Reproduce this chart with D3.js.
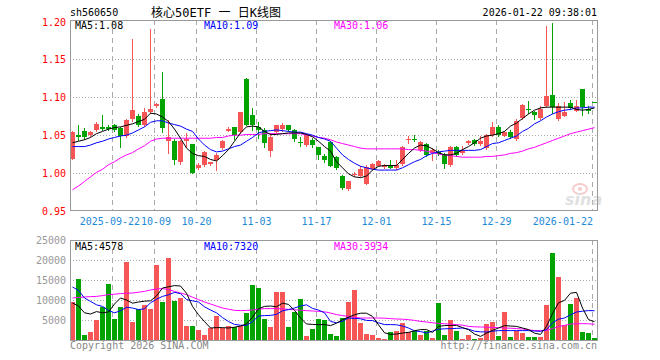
<!DOCTYPE html>
<html lang="zh">
<head>
<meta charset="utf-8">
<title>核心50ETF 日K线图</title>
<script src="https://cdn.jsdelivr.net/npm/d3@7/dist/d3.min.js"></script>
<style>
  body { margin: 0; background: #fff; }
  svg { display: block; }
  text { font-family: "DejaVu Sans Mono", monospace; font-size: 10px; }
</style>
</head>
<body>
<script>
// daily bars, 2025-09-11 .. 2026-01-22 (88 trading days)
var opens = [1.019,1.050,1.055,1.050,1.057,1.061,1.061,1.063,1.060,1.049,
  1.071,1.075,1.064,1.080,1.088,1.098,1.043,1.043,1.015,1.043,
  1.038,1.007,1.011,1.012,1.017,1.033,1.056,1.061,1.054,1.124,
  1.077,1.061,1.057,1.0285,1.054,1.058,1.063,1.057,1.041,1.037,
  1.044,1.034,1.022,1.041,1.0215,0.9965,0.979,0.997,0.9965,0.9855,
  1.0057,1.010,1.008,1.010,1.0066,1.0114,1.044,1.045,1.031,1.039,
  1.026,1.0276,1.025,1.011,1.0346,1.026,1.0395,1.044,1.0386,1.033,
  1.050,1.0614,1.0496,1.054,1.045,1.0724,1.0847,1.0807,1.0724,1.0886,
  1.1031,1.0715,1.0759,1.092,1.0825,1.1105,1.0842,1.0943];
var closes = [1.054,1.047,1.047,1.054,1.065,1.058,1.058,1.057,1.049,1.070,
  1.083,1.064,1.081,1.085,1.091,1.060,1.047,1.017,1.043,1.045,
  1.000,1.011,1.028,1.014,1.024,1.043,1.058,1.050,1.080,1.064,
  1.064,1.057,1.0395,1.048,1.063,1.064,1.057,1.045,1.0395,1.050,
  1.037,1.024,1.017,1.010,1.007,0.980,0.990,0.999,1.005,1.008,
  1.012,1.016,1.011,1.007,1.011,1.035,1.045,1.044,1.041,1.024,
  1.031,1.0254,1.012,1.0346,1.024,1.0285,1.0425,1.0386,1.043,1.050,
  1.0614,1.050,1.054,1.047,1.0693,1.090,1.0838,1.0768,1.0847,1.1018,
  1.0877,1.0886,1.0807,1.0855,1.0886,1.0868,1.082,1.0939];
var highs = [1.055,1.064,1.059,1.056,1.068,1.076,1.064,1.065,1.061,1.072,
  1.177,1.078,1.086,1.190,1.092,1.133,1.070,1.045,1.044,1.053,
  1.039,1.013,1.029,1.015,1.026,1.044,1.061,1.061,1.081,1.125,
  1.086,1.068,1.059,1.053,1.064,1.066,1.064,1.058,1.048,1.051,
  1.046,1.035,1.025,1.042,1.023,0.998,0.990,1.002,1.010,1.0105,
  1.013,1.017,1.012,1.017,1.0175,1.036,1.049,1.050,1.0425,1.040,
  1.033,1.030,1.026,1.0355,1.0355,1.036,1.0434,1.045,1.049,1.0513,
  1.067,1.0636,1.055,1.057,1.072,1.091,1.0956,1.0816,1.0886,1.1943,
  1.1978,1.092,1.0943,1.0965,1.0965,1.111,1.0886,1.0943];
var lows = [1.018,1.044,1.045,1.049,1.056,1.057,1.057,1.055,1.034,1.047,
  1.069,1.062,1.062,1.079,1.087,1.054,1.026,1.012,1.012,1.034,
  0.9995,1.006,1.010,1.0105,1.004,1.032,1.055,1.045,1.053,1.063,
  1.057,1.046,1.034,1.023,1.053,1.056,1.056,1.0425,1.036,1.036,
  1.035,1.019,1.015,1.009,1.005,0.979,0.978,0.9956,0.996,0.985,
  1.005,1.009,1.007,1.0066,1.006,1.0105,1.040,1.042,1.0285,1.022,
  1.0175,1.024,1.0066,1.010,1.023,1.025,1.0386,1.0377,1.0377,1.032,
  1.0496,1.0496,1.0487,1.046,1.0443,1.0715,1.079,1.071,1.0715,1.0877,
  1.079,1.070,1.075,1.0842,1.0816,1.0768,1.079,1.0939];
var volumes = [9600,15300,1300,1900,5100,8300,14100,5300,8300,19600,
  4600,7800,8800,7800,18800,9600,20600,9800,10600,3600,
  3600,2600,1300,3100,6100,3100,3600,3300,3600,6800,
  13800,13100,5300,3200,12100,12100,3300,7100,10300,1100,
  2800,5300,5100,1600,1100,5600,9600,12600,4300,1600,
  1300,600,300,2100,2300,4300,2100,2300,1300,2300,
  600,9300,1300,5100,2300,300,1300,300,600,4100,
  4600,1100,7100,800,2200,1800,800,800,800,8800,
  21800,15800,3700,9100,10600,2100,1800,400];

// moving averages as drawn on the chart
var ma5 = [1.040,1.042,1.044,1.047,1.052,1.055,1.058,1.060,1.061,1.063,
  1.065,1.068,1.071,1.079,1.078,1.074,1.068,1.058,1.046,1.033,
  1.026,1.023,1.022,1.018,1.016,1.023,1.031,1.042,1.053,1.061,
  1.062,1.061,1.055,1.051,1.051,1.052,1.053,1.053,1.053,1.051,
  1.048,1.042,1.035,1.029,1.015,1.007,0.999,0.995,0.994,0.996,
  1.004,1.009,1.010,1.010,1.010,1.018,1.026,1.033,1.037,1.036,
  1.032,1.027,1.024,1.024,1.026,1.031,1.035,1.040,1.046,1.049,
  1.050,1.052,1.055,1.062,1.066,1.072,1.078,1.083,1.086,1.087,
  1.087,1.087,1.087,1.087,1.084,1.083,1.084,1.086];
var ma10 = [1.035,1.035,1.035,1.037,1.040,1.042,1.045,1.047,1.049,1.050,
  1.053,1.057,1.061,1.067,1.069,1.069,1.066,1.064,1.062,1.058,
  1.055,1.045,1.037,1.031,1.028,1.029,1.032,1.035,1.037,1.042,
  1.047,1.053,1.055,1.056,1.057,1.056,1.055,1.054,1.054,1.052,
  1.050,1.047,1.045,1.042,1.033,1.024,1.018,1.013,1.009,1.007,
  1.005,1.004,1.004,1.004,1.004,1.007,1.011,1.015,1.018,1.023,
  1.026,1.028,1.029,1.030,1.030,1.030,1.030,1.030,1.031,1.035,
  1.039,1.040,1.043,1.046,1.049,1.055,1.059,1.065,1.069,1.074,
  1.078,1.081,1.083,1.084,1.086,1.086,1.087,1.087];
var ma30 = [0.978,0.983,0.989,0.995,1.001,1.005,1.011,1.015,1.020,1.024,
  1.027,1.032,1.036,1.042,1.045,1.046,1.046,1.046,1.046,1.046,
  1.046,1.046,1.046,1.046,1.047,1.047,1.049,1.050,1.050,1.051,
  1.051,1.051,1.052,1.052,1.052,1.052,1.052,1.052,1.052,1.050,
  1.049,1.047,1.046,1.044,1.041,1.039,1.037,1.035,1.033,1.032,
  1.032,1.032,1.032,1.032,1.032,1.032,1.031,1.031,1.030,1.029,
  1.027,1.025,1.024,1.023,1.022,1.021,1.021,1.021,1.021,1.022,
  1.022,1.023,1.024,1.026,1.027,1.029,1.032,1.034,1.037,1.040,
  1.043,1.046,1.049,1.052,1.054,1.056,1.058,1.060];
var vma5 = [9250,8500,6800,6500,7100,6800,7000,9000,10500,10000,
  9200,9500,9700,9800,11000,13000,13300,13600,13500,11700,
  8400,6300,4600,3000,3100,3100,3000,3200,3500,4000,
  5700,7800,8400,8500,8300,9200,8900,7400,5500,4000,
  3900,3850,3850,3600,4200,5100,5700,6300,6700,6700,
  5900,3800,1800,1400,1500,1750,1900,2300,2600,2600,
  1900,3400,3600,3650,3650,3100,2600,1500,900,1700,
  2400,3000,3600,3500,3400,3000,2600,1700,1400,3400,
  6600,9300,9900,11700,11900,8000,5100,4578];
var vma10 = [13250,12400,10500,9650,8800,8400,7400,6800,7300,8200,
  8000,7600,7800,9300,10200,10900,11300,11900,11600,10100,
  9800,9500,8300,7500,6800,5600,4600,3900,3700,3650,
  4600,6000,6100,6150,6400,7300,7600,8000,8500,8800,
  7900,7500,6800,4650,4300,4700,5500,5400,5300,4900,
  4850,4300,3850,3850,3800,3500,3000,2300,2100,1750,
  2200,2700,2800,2850,2900,3000,2700,2200,2050,2000,
  2200,2350,2350,2350,2350,2350,2350,2250,2150,2600,
  4300,5200,5500,6300,7000,7200,7350,7320];
var vma30 = [10500,10650,10750,10850,10900,11100,11350,11450,11600,11700,
  11750,11950,12150,12500,12750,12850,12600,12150,11750,11350,
  10700,10100,9500,9000,8500,8000,7700,7400,7350,7400,
  7500,7700,7850,7850,7850,7800,7650,7550,7450,7350,
  7250,7150,7050,6750,6350,6100,5900,5700,5500,5500,
  5500,5500,5450,5350,5250,5200,5100,4900,4650,4500,
  4300,4150,4050,3950,3850,3700,3400,3300,3250,3200,
  3150,3100,3000,2950,2850,2750,2550,2350,2350,2400,
  2850,3400,3650,4000,4050,4100,4050,3934];

// axis ticks
var tickIdx = [7, 14, 21, 31, 41, 51, 61, 71, 87];
var tickLabels = ["2025-09-22", "10-09", "10-20", "11-03", "11-17", "12-01", "12-15", "12-29", "2026-01-22"];
var priceTicks = [0.95, 1.00, 1.05, 1.10, 1.15, 1.20];
var volTicks = [5000, 10000, 15000, 20000, 25000];

var w = 660, h = 360;
var RED = "#f65656", GREEN = "#00a300", GRID = "#aaa";

var svg = d3.select("body").append("svg")
  .attr("width", w)
  .attr("height", h);

// scales
var x = d3.scaleLinear().domain([0, 88]).range([70, 598]);   // left edge of each bar
var yP = d3.scaleLinear().domain([0.95, 1.20]).range([211, 21.5]);
var yV = d3.scaleLinear().domain([0, 25000]).range([340, 240]);

var idx = d3.range(opens.length);
function xl(i) { return Math.round(x(i)); }
function xc(i) { return Math.round(x(i)) + 2.5; }
function isUp(i) { return closes[i] >= opens[i]; }

// header texts
svg.append("text").attr("x", 70).attr("y", 16).text("sh560650");
svg.append("text").attr("x", 216).attr("y", 17).attr("text-anchor", "middle")
  .style("font-size", "12px").style("font-family", "'DejaVu Sans Mono', 'Noto Sans CJK SC', monospace")
  .text("核心50ETF 一 日K线图");
svg.append("text").attr("x", 597).attr("y", 16).attr("text-anchor", "end").text("2026-01-22 09:38:01");

// gridlines: price panel
svg.append("g").selectAll("line")
  .data(priceTicks.slice(1, -1))
  .enter().append("line")
  .attr("x1", 70).attr("x2", 597)
  .attr("y1", function(d) { return Math.round(yP(d)) + 0.5; })
  .attr("y2", function(d) { return Math.round(yP(d)) + 0.5; })
  .attr("stroke", GRID).attr("stroke-dasharray", "1,2");

svg.append("g").selectAll("line")
  .data(volTicks.slice(0, -1))
  .enter().append("line")
  .attr("x1", 70).attr("x2", 597)
  .attr("y1", function(d) { return Math.round(yV(d)) + 0.5; })
  .attr("y2", function(d) { return Math.round(yV(d)) + 0.5; })
  .attr("stroke", GRID).attr("stroke-dasharray", "1,2");

// vertical dashed gridlines, both panels
[[20, 211], [240, 340]].forEach(function(r) {
  svg.append("g").selectAll("line")
    .data(tickIdx)
    .enter().append("line")
    .attr("x1", function(i) { return xl(i) + 0.5; })
    .attr("x2", function(i) { return xl(i) + 0.5; })
    .attr("y1", r[0]).attr("y2", r[1])
    .attr("stroke", GRID).attr("stroke-dasharray", "5,4");
});

// sina watermark
var logo = svg.append("g").attr("opacity", 0.55);
logo.append("ellipse").attr("cx", 580).attr("cy", 189).attr("rx", 7).attr("ry", 5)
  .attr("fill", "none").attr("stroke", "#f0a0a0").attr("stroke-width", 2);
logo.append("circle").attr("cx", 580).attr("cy", 189).attr("r", 2).attr("fill", "#f0a0a0");
logo.append("text").attr("x", 565).attr("y", 205)
  .style("font-family", "'DejaVu Sans', sans-serif").style("font-size", "16px")
  .style("font-weight", "bold").style("font-style", "italic")
  .attr("fill", "#c8c8c8").text("sina");

// candles
var candles = svg.append("g");
candles.selectAll("line")
  .data(idx)
  .enter().append("line")
  .attr("x1", xc).attr("x2", xc)
  .attr("y1", function(i) { return Math.round(yP(highs[i])); })
  .attr("y2", function(i) { return Math.round(yP(lows[i])) + 1; })
  .attr("stroke", function(i) { return isUp(i) ? RED : GREEN; });

candles.selectAll("rect")
  .data(idx)
  .enter().append("rect")
  .attr("x", xl)
  .attr("width", 5)
  .attr("y", function(i) { return Math.round(yP(Math.max(opens[i], closes[i]))); })
  .attr("height", function(i) {
    return Math.max(1, Math.round(yP(Math.min(opens[i], closes[i]))) - Math.round(yP(Math.max(opens[i], closes[i]))));
  })
  .attr("fill", function(i) { return isUp(i) ? RED : GREEN; })
  .attr("shape-rendering", "crispEdges");

// volume bars
svg.append("g").selectAll("rect")
  .data(idx)
  .enter().append("rect")
  .attr("x", xl)
  .attr("width", 5)
  .attr("y", function(i) { return Math.round(yV(volumes[i])); })
  .attr("height", function(i) { return 340 - Math.round(yV(volumes[i])); })
  .attr("fill", function(i) { return isUp(i) ? RED : GREEN; })
  .attr("shape-rendering", "crispEdges");

// moving average lines
function drawLine(values, yScale, color) {
  var line = d3.line()
    .x(function(d, i) { return xc(i); })
    .y(function(d) { return yScale(d); });
  svg.append("path")
    .datum(values)
    .attr("d", line)
    .attr("fill", "none")
    .attr("stroke", color)
    .attr("stroke-width", 1);
}
drawLine(ma30, yP, "#ff00ff");
drawLine(ma10, yP, "#0000ff");
drawLine(ma5, yP, "#000");
drawLine(vma30, yV, "#ff00ff");
drawLine(vma10, yV, "#0000ff");
drawLine(vma5, yV, "#000");

// panel borders
svg.append("rect").attr("x", 70.5).attr("y", 20.5).attr("width", 527).attr("height", 190)
  .attr("fill", "none").attr("stroke", "#999");
svg.append("rect").attr("x", 70.5).attr("y", 240.5).attr("width", 527).attr("height", 100)
  .attr("fill", "none").attr("stroke", "#999");

// axis labels
svg.append("g").selectAll("text")
  .data(priceTicks)
  .enter().append("text")
  .attr("x", 66).attr("y", function(d) { return yP(d) + 4; })
  .attr("text-anchor", "end").attr("fill", "#f00")
  .text(function(d) { return d.toFixed(2); });

svg.append("g").selectAll("text")
  .data(volTicks)
  .enter().append("text")
  .attr("x", 66).attr("y", function(d) { return yV(d) + 4; })
  .attr("text-anchor", "end").attr("fill", "#999")
  .text(function(d) { return d; });

// date labels: first two sit side by side, last one ends on its gridline
var last = tickIdx.length - 1;
svg.append("g").selectAll("text")
  .data(tickIdx)
  .enter().append("text")
  .attr("x", function(i, k) {
    if (k === 0) return xl(tickIdx[1]) - 14;
    if (k === 1) return xl(i) - 13;
    if (k === last) return xl(i) + 1;
    return xl(i) + 0.5;
  })
  .attr("y", 225)
  .attr("text-anchor", function(i, k) {
    if (k === 0 || k === last) return "end";
    if (k === 1) return "start";
    return "middle";
  })
  .attr("fill", "#1f8ad6")
  .text(function(i, k) { return tickLabels[k]; });

// legends
var legends = [
  [75, 29, "#000", "MA5:1.08"], [204, 29, "#0000ff", "MA10:1.09"], [334, 29, "#ff00ff", "MA30:1.06"],
  [75, 250, "#000", "MA5:4578"], [204, 250, "#0000ff", "MA10:7320"], [334, 250, "#ff00ff", "MA30:3934"]
];
svg.append("g").selectAll("text")
  .data(legends)
  .enter().append("text")
  .attr("x", function(d) { return d[0]; })
  .attr("y", function(d) { return d[1]; })
  .attr("fill", function(d) { return d[2]; })
  .text(function(d) { return d[3]; });

// footer
svg.append("text").attr("x", 70).attr("y", 349).attr("fill", "#888").text("Copyright 2026 SINA.COM");
svg.append("text").attr("x", 597).attr("y", 349).attr("text-anchor", "end").attr("fill", "#888")
  .text("http://finance.sina.com.cn");
</script>
</body>
</html>
